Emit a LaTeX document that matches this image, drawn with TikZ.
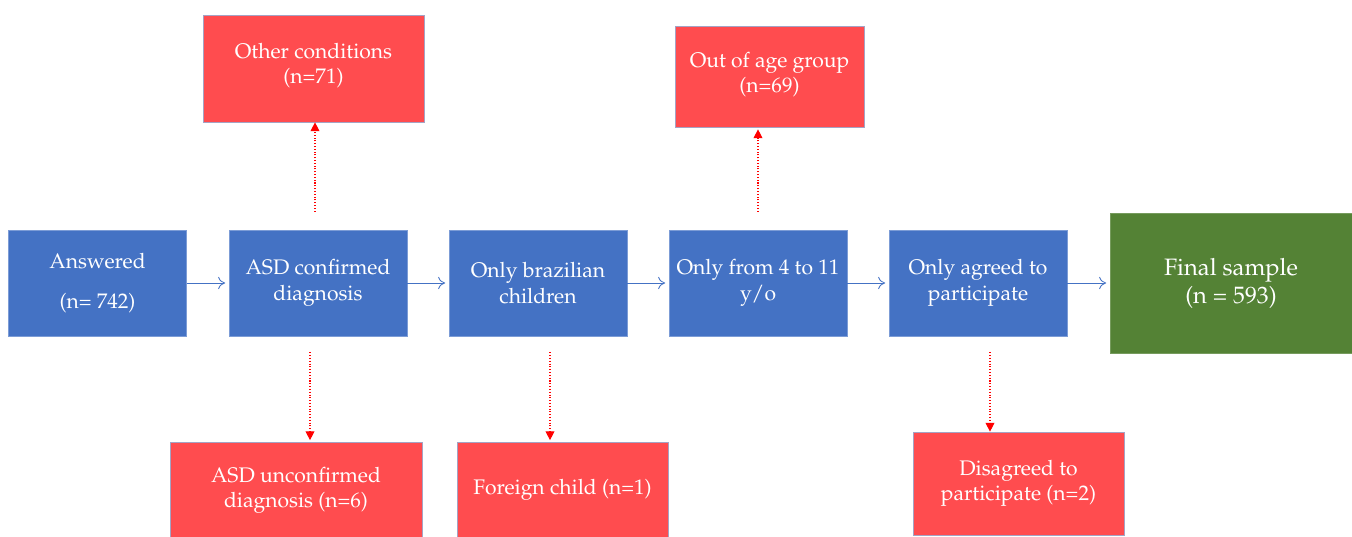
\documentclass[tikz,border=0pt]{standalone}
\usepackage[T1]{fontenc}
\usepackage{mathpazo}
\usepackage{tikz}
\usetikzlibrary{arrows.meta}

\definecolor{stepblue}{HTML}{4472C4}
\definecolor{dropred}{HTML}{FF4C4F}
\definecolor{finalgreen}{HTML}{548235}
\definecolor{dropline}{HTML}{A4A3C4}

\tikzset{
	stage/.style = {draw=stepblue!70!white, fill=stepblue, text=white, align=center,
		minimum width=3.56cm, minimum height=2.12cm, inner sep=2pt, font=\fontsize{12}{14.8}\selectfont},
	dropbox/.style = {draw=dropline, fill=dropred, text=white, align=center,
		inner sep=2pt, font=\fontsize{12}{14.4}\selectfont},
	flow/.style = {-{To[length=4pt,width=7pt]}, color=stepblue, line width=0.5pt, shorten >=2pt},
	dropout/.style = {-{Triangle[length=5pt,width=5pt]}, color=red, densely dotted, line width=0.6pt}
}

\begin{document}
\begin{tikzpicture}[x=0.02cm, y=-0.02cm]
	\useasboundingbox (0,0) rectangle (1352,537);
	% main steps
	\node (answered) [stage] at (97.5,283) {Answered\\[8pt](n= 742)};
	\node (confirmed) [stage] at (318,283) {ASD confirmed\\diagnosis};
	\node (brazilian) [stage] at (538,283) {Only brazilian\\children};
	\node (agerange) [stage] at (758,283) {Only from 4 to 11\\y/o};
	\node (agreed) [stage] at (978,283) {Only agreed to\\participate};
	\node (final) [draw=finalgreen!80!white, fill=finalgreen, text=white, align=center,
		minimum width=4.84cm, minimum height=2.8cm, font=\fontsize{13.5}{16}\selectfont]
		at (1231,283) {Final sample\\(n = 593)};
	% excluded
	\node (other) [dropbox, minimum width=4.42cm, minimum height=2.14cm] at (313.5,68.5)
		{Other conditions\\(n=71)\\[-8.4pt]};
	\node (outage) [dropbox, minimum width=3.78cm, minimum height=2.02cm] at (769.5,76.5)
		{Out of age group\\(n=69)\\[-9.8pt]};
	\node (unconfirmed) [dropbox, minimum width=5.04cm, minimum height=1.9cm] at (296,490)
		{ASD unconfirmed\\diagnosis (n=6)};
	\node (foreign) [dropbox, minimum width=4.22cm, minimum height=1.9cm] at (562.5,490)
		{Foreign child (n=1)};
	\node (disagreed) [dropbox, minimum width=4.22cm, minimum height=2.06cm] at (1018.5,483.5)
		{Disagreed to\\participate (n=2)};

	\foreach \a/\b in {answered/confirmed, confirmed/brazilian, brazilian/agerange,
		agerange/agreed, agreed/final}
	\draw [flow] (\a.east) -- (\b.west);

	\draw [dropout, shorten <=0.36cm] ([xshift=-0.06cm]confirmed.north) -- ([xshift=-0.06cm]confirmed.north |- other.south);
	\draw [dropout, shorten <=0.32cm, shorten >=0.04cm] ([xshift=-0.16cm]confirmed.south) -- ([xshift=-0.16cm]confirmed.south |- unconfirmed.north);
	\draw [dropout, shorten <=0.32cm, shorten >=0.04cm] ([xshift=0.24cm]brazilian.south) -- ([xshift=0.24cm]brazilian.south |- foreign.north);
	\draw [dropout, shorten <=0.36cm, shorten >=0.04cm] (agerange.north) -- (agerange.north |- outage.south);
	\draw [dropout, shorten <=0.32cm] ([xshift=0.24cm]agreed.south) -- ([xshift=0.24cm]agreed.south |- disagreed.north);
\end{tikzpicture}
\end{document}
